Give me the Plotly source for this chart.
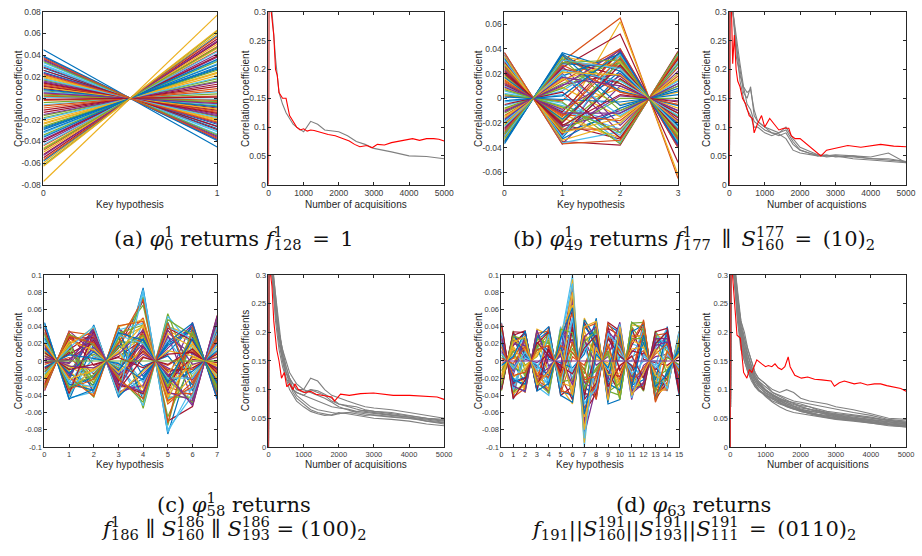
import plotly.graph_objects as go

W, H = 922, 556
COLORS = ['#0072BD', '#D95319', '#EDB120', '#7E2F8E', '#77AC30', '#4DBEEE', '#A2142F']
GRAY = '#808080'
RED = '#FF0000'

# ---------------- data: key-hypothesis panels ----------------
A_KEYS = [0, 1]
A_V0 = [0.045, 0.012, -0.077, 0.038, -0.062, 0.031, -0.055, 0.026, -0.048, 0.021, -0.041, 0.017, -0.035, 0.009,
        -0.029, 0.004, -0.024, 0.035, -0.018, 0.001, -0.013, 0.028, -0.009, -0.06, 0.015, -0.004, 0.033, -0.052,
        0.024, -0.044, 0.019, -0.038, 0.007, -0.032, 0.011, -0.027, 0.002, -0.021, 0.036, -0.016, -0.006, 0.029,
        -0.058, 0.013, -0.046, 0.023, -0.034, 0.006, -0.011, 0.039, -0.002, -0.05, 0.016, -0.026, 0.03, -0.039,
        0.008, -0.057, 0.02, -0.015, 0.003, -0.043, 0.026, -0.031, -0.007, 0.01, -0.053, 0.034, -0.019, 0.014,
        -0.036, 0.037, -0.023, 0.005, -0.047, 0.018, -0.001, -0.028, 0.022, -0.063]

B_KEYS = [0, 1, 2, 3]
B_X0 = [0.032, -0.03, 0.018, 0.037, -0.012, 0.006, -0.025, 0.028, -0.035, 0.012, -0.02, 0.024, -0.006, 0.035,
        -0.028, 0.002, -0.016, 0.03, -0.033, 0.01, 0.021, -0.037, 0.015, -0.009, 0.026, -0.022, 0.004, -0.031,
        0.033, -0.014, 0.008, -0.026, 0.019, -0.003, 0.029, -0.018, 0.013, -0.034, 0.023, -0.008, 0.036, -0.024,
        0.001, -0.029, 0.016, -0.011, 0.027, -0.019, 0.011, -0.036,
        0.025, -0.015, 0.009, -0.032, 0.031, -0.005, 0.017, -0.027, 0.034, -0.01, 0.003, -0.023, 0.02, -0.035,
        0.014, 0.028, -0.017, 0.007, -0.031, 0.022, -0.002, 0.037, -0.021, 0.012, -0.029]
B_X2 = [0.02, 0.065, 0.062, 0.01, 0.03, -0.02, 0.052, -0.012, 0.005, -0.035, -0.028, 0.015, 0.035, -0.038,
        0.025, 0.04, -0.005, 0.032, 0.012, -0.025, -0.033, 0.022, 0.038, -0.015, 0.002, 0.028, -0.03, 0.018,
        -0.008, 0.04, 0.008, -0.022, 0.03, -0.036, 0.016, 0.036, -0.018, 0.024, -0.01, 0.034, -0.027, 0.012,
        -0.003, 0.026, -0.032, 0.02, 0.0, -0.014, 0.038, 0.006,
        -0.025, 0.03, 0.018, -0.01, 0.036, -0.032, 0.022, 0.005, -0.02, 0.039, -0.037, 0.014, 0.027, -0.006,
        0.033, -0.016, 0.01, -0.028, 0.024, 0.003, 0.037, -0.034, 0.019, -0.012, 0.031]

C_KEYS = [0, 1, 2, 3, 4, 5, 6, 7]
C_X0 = [0.045, -0.02, 0.03, -0.035, 0.012, 0.038, -0.01, 0.022, -0.028, 0.005, 0.034, -0.016, 0.026, -0.032,
        0.018, -0.004, 0.041, -0.024, 0.009, 0.029, -0.013, 0.015, -0.03, 0.036, 0.002, -0.021, 0.024, -0.008,
        0.032, -0.026, 0.011, 0.02, -0.018, 0.04, -0.002, 0.027, -0.034, 0.007, 0.016, -0.012,
        0.043, -0.027, 0.014, 0.033, -0.019, 0.006, -0.031, 0.025, 0.038, -0.007, 0.019, -0.023, 0.003, 0.031,
        -0.015, 0.01, 0.044, -0.029, 0.021, -0.001, 0.0]
C_X2 = [0.02, 0.035, -0.03, 0.01, -0.042, 0.025, -0.015, 0.04, 0.005, -0.025, 0.03, -0.036, 0.015, -0.005,
        0.042, -0.02, 0.028, -0.038, 0.008, -0.012, 0.033, -0.028, 0.018, -0.008, 0.038, -0.032, 0.002, 0.024,
        -0.018, 0.012, -0.04, 0.036, -0.022, 0.006, 0.022, -0.034, 0.03, -0.01, 0.016, -0.026,
        -0.036, 0.027, 0.011, -0.021, 0.039, -0.008, 0.019, -0.03, 0.034, 0.003, -0.041, 0.013, 0.026, -0.016,
        0.04, -0.004, -0.033, 0.021, -0.011, 0.032, 0.0]
C_X4 = [0.085, 0.03, -0.04, 0.02, -0.055, 0.045, 0.07, -0.02, 0.01, 0.04, -0.03, 0.02, 0.083, 0.025, -0.01,
        0.05, -0.035, 0.015, 0.075, -0.025, 0.035, -0.045, 0.005, 0.028, -0.015, 0.042, -0.052, 0.018, -0.006,
        0.032, 0.048, -0.028, 0.022, -0.04, 0.012, -0.018, 0.038, -0.032, 0.008, 0.065,
        0.044, -0.038, 0.026, 0.072, -0.012, 0.036, -0.048, 0.02, 0.004, -0.022, 0.046, 0.014, -0.036, 0.03,
        0.08, -0.008, 0.024, -0.044, 0.042, 0.016, 0.0]
C_X6 = [0.01, -0.04, 0.03, 0.045, -0.02, 0.02, -0.053, 0.038, -0.01, 0.025, -0.045, 0.015, -0.03, 0.005, 0.04,
        -0.025, 0.022, -0.05, 0.035, -0.015, 0.028, -0.035, 0.012, -0.005, 0.042, -0.042, 0.018, 0.002, -0.028,
        0.032, -0.018, 0.008, -0.048, 0.026, -0.008, 0.036, -0.038, 0.016, -0.022, 0.0,
        -0.032, 0.024, -0.012, 0.04, 0.006, -0.046, 0.03, -0.02, 0.014, 0.044, -0.03, 0.02, -0.004, 0.034,
        -0.04, 0.01, 0.026, -0.026, 0.004, -0.052, 0.0]

D_KEYS = list(range(16))
D_X0 = [0.045, -0.03, 0.02, 0.035, -0.015, 0.01, -0.035, 0.028, -0.022, 0.004, 0.04, -0.008, 0.016, -0.028,
        0.032, -0.018, 0.024, -0.003, 0.038, -0.025, 0.007, 0.013, -0.033, 0.03, -0.011, 0.019, -0.02, 0.036,
        -0.006, 0.026, -0.031,
        0.042, -0.026, 0.012, -0.012, 0.034, -0.034, 0.022, 0.003, -0.017, 0.029, -0.029, 0.009, 0.044, -0.005,
        0.017, -0.022, 0.0]
D_X2 = [0.02, 0.035, -0.03, 0.01, -0.037, 0.028, -0.012, 0.005, 0.032, -0.024, 0.015, -0.033, 0.024, -0.005,
        0.012, 0.034, -0.019, 0.026, -0.028, 0.002, -0.015, 0.03, 0.008, -0.035, 0.022, -0.009, 0.018, -0.026,
        0.03, -0.02, 0.006,
        -0.032, 0.014, 0.029, -0.018, 0.004, 0.033, -0.027, 0.017, -0.006, -0.036, 0.025, 0.01, -0.022, 0.035,
        -0.013, 0.028, 0.0]
D_X4 = [-0.025, 0.04, 0.01, -0.038, 0.03, -0.012, 0.022, -0.03, 0.005, 0.035, -0.02, 0.015, -0.035, 0.027,
        -0.005, 0.018, -0.028, 0.038, -0.015, 0.008, 0.032, -0.022, 0.012, 0.002, -0.032, 0.025, -0.008, 0.02,
        -0.04, 0.034, -0.017,
        0.035, -0.034, -0.01, 0.024, -0.024, 0.014, 0.04, -0.018, 0.029, -0.006, -0.037, 0.031, 0.006, -0.026,
        0.018, -0.012, 0.0]
D_X6 = [0.1, -0.03, 0.045, 0.02, -0.05, 0.085, 0.035, -0.015, 0.06, -0.04, 0.025, 0.095, -0.025, 0.01, 0.05,
        -0.045, 0.03, 0.005, -0.035, 0.075, 0.015, -0.02, 0.04, -0.008, 0.055, -0.03, 0.07, 0.02, -0.012, 0.038,
        -0.042,
        -0.038, 0.065, 0.025, -0.022, 0.09, 0.045, -0.048, 0.01, 0.08, -0.028, 0.033, 0.05, -0.015, 0.062,
        0.022, -0.04, 0.0]
D_X8 = [0.03, -0.045, 0.05, -0.01, 0.02, -0.03, 0.04, 0.008, -0.038, 0.025, -0.02, 0.045, -0.005, 0.035,
        -0.025, 0.015, -0.042, 0.028, 0.002, -0.015, 0.038, -0.034, 0.012, 0.048, -0.028, 0.005, 0.022, -0.012,
        0.032, -0.04, 0.018,
        0.044, -0.02, -0.035, 0.036, 0.01, -0.026, 0.026, -0.044, 0.016, 0.04, -0.008, -0.032, 0.03, 0.008,
        -0.018, 0.046, 0.0]
D_X10 = [-0.02, 0.035, -0.045, 0.025, 0.04, -0.01, 0.015, -0.035, 0.03, 0.005, -0.028, 0.02, 0.045, -0.04,
         0.01, -0.018, 0.033, -0.005, -0.03, 0.042, 0.022, 0.0, -0.038, 0.028, 0.012, -0.024, 0.036, -0.044,
         0.008, -0.012, 0.026,
         0.03, -0.042, 0.018, -0.026, 0.043, 0.006, -0.034, 0.024, -0.014, 0.038, -0.045, 0.015, -0.006, 0.032,
         -0.022, 0.04, 0.0]
D_X12 = [0.015, -0.025, 0.035, 0.048, -0.01, 0.025, -0.035, 0.005, 0.04, -0.02, 0.03, -0.03, 0.01, 0.02,
         -0.015, 0.044, -0.028, 0.012, 0.028, -0.005, -0.033, 0.038, 0.002, -0.022, 0.033, 0.018, -0.012, 0.045,
         -0.032, 0.008, 0.022,
         -0.03, 0.04, -0.018, 0.026, 0.008, -0.034, 0.042, -0.008, 0.016, -0.026, 0.036, 0.0, -0.02, 0.03,
         0.046, -0.014, 0.0]
D_X14 = [-0.035, 0.02, 0.04, -0.015, 0.03, -0.028, 0.01, 0.035, -0.02, 0.015, -0.032, 0.025, 0.005, -0.01,
         0.038, -0.025, 0.018, -0.03, 0.028, 0.008, -0.018, 0.033, -0.005, 0.022, -0.034, 0.012, 0.03, -0.012,
         0.015, -0.022, 0.036,
         0.032, -0.03, 0.022, -0.022, 0.008, 0.038, -0.012, 0.02, -0.028, 0.026, 0.004, -0.033, 0.034, -0.016,
         0.012, -0.008, 0.0]

# ---------------- data: acquisition panels ----------------
ACQ_X = [0, 25, 100, 200, 300, 400, 500, 600, 700, 800, 1000, 1200, 1400, 1600, 1800, 2000, 2250, 2500, 2750,
         3000, 3500, 4000, 4500, 5000]

A_RED_X = [0, 20, 60, 100, 150, 200, 250, 300, 400, 500, 600, 700, 800, 900, 1000, 1100, 1200, 1300, 1500, 1700,
           1900, 2100, 2300, 2450, 2600, 2800, 2950, 3100, 3300, 3500, 3700, 3900, 4100, 4300, 4500, 4700, 4850, 5000]
A_RED_Y = [0, 0.6, 0.31, 0.29, 0.26, 0.2, 0.19, 0.16, 0.15, 0.15, 0.12, 0.11, 0.1, 0.095, 0.097, 0.093, 0.095,
           0.094, 0.09, 0.087, 0.085, 0.08, 0.076, 0.07, 0.066, 0.068, 0.064, 0.07, 0.069, 0.073, 0.075, 0.078,
           0.08, 0.077, 0.08, 0.08, 0.079, 0.076]
A_GRAY = [
    [0, 0.6, 0.3, 0.22, 0.16, 0.14, 0.125, 0.115, 0.105, 0.1, 0.092, 0.11, 0.105, 0.095, 0.094, 0.092, 0.085,
     0.075, 0.07, 0.063, 0.057, 0.05, 0.049, 0.045],
]

B_RED_X = [0, 20, 60, 93, 140, 190, 235, 300, 370, 460, 560, 650, 700, 790, 910, 1000, 1140, 1260, 1400, 1540,
           1680, 1750, 1860, 2000, 2200, 2420, 2590, 2750, 2980, 3350, 3720, 4000, 4280, 4650, 5000]
B_RED_Y = [0, 0.6, 0.3, 0.21, 0.26, 0.2, 0.18, 0.17, 0.15, 0.14, 0.12, 0.115, 0.09, 0.105, 0.12, 0.1, 0.115,
           0.105, 0.095, 0.098, 0.098, 0.085, 0.08, 0.08, 0.07, 0.06, 0.05, 0.06, 0.063, 0.068, 0.065, 0.068, 0.07,
           0.067, 0.066]
B_GRAY = [
    [0, 0.6, 0.3, 0.24, 0.2, 0.16, 0.15, 0.17, 0.12, 0.11, 0.1, 0.095, 0.09, 0.1, 0.08, 0.065, 0.058, 0.052, 0.05,
     0.05, 0.048, 0.045, 0.042, 0.04],
    [0, 0.6, 0.3, 0.25, 0.21, 0.17, 0.16, 0.165, 0.13, 0.11, 0.1, 0.09, 0.085, 0.09, 0.07, 0.06, 0.055, 0.05,
     0.052, 0.048, 0.05, 0.048, 0.055, 0.038],
    [0, 0.6, 0.3, 0.22, 0.19, 0.17, 0.14, 0.13, 0.11, 0.105, 0.095, 0.09, 0.088, 0.08, 0.06, 0.055, 0.052, 0.05,
     0.05, 0.052, 0.05, 0.045, 0.045, 0.04],
    [0, 0.6, 0.3, 0.24, 0.18, 0.15, 0.13, 0.12, 0.1, 0.1, 0.09, 0.085, 0.09, 0.095, 0.075, 0.06, 0.055, 0.052,
     0.048, 0.05, 0.045, 0.043, 0.04, 0.038],
]

C_RED_X = [0, 20, 60, 100, 150, 233, 300, 370, 450, 520, 600, 700, 750, 850, 1030, 1200, 1350, 1500, 1680, 1800,
           1880, 2050, 2300, 2620, 2990, 3300, 3550, 4020, 4490, 4800, 5000]
C_RED_Y = [0, 0.6, 0.3, 0.28, 0.22, 0.17, 0.15, 0.12, 0.13, 0.105, 0.11, 0.1, 0.11, 0.1, 0.095, 0.097, 0.092, 0.09,
           0.088, 0.087, 0.08, 0.092, 0.09, 0.093, 0.094, 0.092, 0.09, 0.09, 0.088, 0.087, 0.083]
C_GRAY = [
    [0, 0.6, 0.32, 0.25, 0.2, 0.17, 0.15, 0.13, 0.12, 0.11, 0.1, 0.12, 0.115, 0.1, 0.09, 0.085, 0.08, 0.075, 0.07,
     0.068, 0.065, 0.06, 0.055, 0.05],
    [0, 0.6, 0.3, 0.24, 0.18, 0.15, 0.13, 0.12, 0.11, 0.1, 0.095, 0.1, 0.095, 0.09, 0.08, 0.075, 0.072, 0.07, 0.065,
     0.062, 0.06, 0.055, 0.05, 0.048],
    [0, 0.6, 0.31, 0.22, 0.17, 0.14, 0.12, 0.11, 0.1, 0.095, 0.09, 0.085, 0.08, 0.075, 0.07, 0.068, 0.066, 0.062,
     0.06, 0.058, 0.055, 0.052, 0.048, 0.045],
    [0, 0.6, 0.3, 0.23, 0.19, 0.16, 0.14, 0.12, 0.1, 0.09, 0.08, 0.07, 0.065, 0.062, 0.06, 0.058, 0.06, 0.062,
     0.064, 0.062, 0.058, 0.055, 0.05, 0.046],
    [0, 0.6, 0.33, 0.26, 0.2, 0.16, 0.13, 0.11, 0.095, 0.085, 0.075, 0.065, 0.06, 0.057, 0.055, 0.058, 0.06,
     0.058, 0.055, 0.056, 0.053, 0.05, 0.045, 0.042],
    [0, 0.6, 0.3, 0.24, 0.19, 0.15, 0.12, 0.1, 0.09, 0.08, 0.07, 0.062, 0.058, 0.055, 0.056, 0.06, 0.058, 0.055,
     0.052, 0.05, 0.048, 0.045, 0.04, 0.037],
    [0, 0.6, 0.31, 0.25, 0.2, 0.17, 0.14, 0.12, 0.11, 0.1, 0.1, 0.095, 0.09, 0.085, 0.078, 0.07, 0.065, 0.06,
     0.058, 0.055, 0.052, 0.05, 0.047, 0.043],
    [0, 0.6, 0.32, 0.27, 0.21, 0.16, 0.13, 0.115, 0.1, 0.095, 0.09, 0.1, 0.098, 0.092, 0.085, 0.075, 0.07, 0.066,
     0.062, 0.06, 0.056, 0.052, 0.045, 0.04],
]

D_RED_X = [0, 20, 60, 100, 188, 282, 330, 376, 470, 540, 611, 680, 752, 893, 1000, 1081, 1180, 1269, 1360, 1457,
           1550, 1645, 1700, 1833, 2020, 2200, 2396, 2600, 2866, 2960, 3100, 3242, 3524, 3700, 3900, 4100, 4276,
           4450, 4652, 4850, 5000]
D_RED_Y = [0, 0.6, 0.3, 0.27, 0.195, 0.19, 0.16, 0.13, 0.12, 0.135, 0.13, 0.14, 0.152, 0.145, 0.14, 0.142, 0.14,
           0.145, 0.138, 0.135, 0.14, 0.157, 0.14, 0.125, 0.12, 0.122, 0.118, 0.117, 0.115, 0.106, 0.112, 0.115,
           0.11, 0.112, 0.108, 0.11, 0.11, 0.107, 0.104, 0.102, 0.097]
D_GRAY = [
    [0, 0.6, 0.32, 0.26, 0.21, 0.19, 0.17, 0.15, 0.13, 0.12, 0.11, 0.1, 0.095, 0.1, 0.095, 0.085, 0.08, 0.078,
     0.075, 0.07, 0.065, 0.058, 0.05, 0.048],
    [0, 0.6, 0.31, 0.25, 0.2, 0.18, 0.16, 0.14, 0.125, 0.115, 0.105, 0.095, 0.09, 0.085, 0.08, 0.078, 0.075, 0.072,
     0.068, 0.065, 0.06, 0.055, 0.048, 0.045],
    [0, 0.6, 0.3, 0.24, 0.2, 0.17, 0.15, 0.135, 0.12, 0.11, 0.1, 0.092, 0.085, 0.08, 0.076, 0.072, 0.07, 0.066,
     0.062, 0.06, 0.056, 0.052, 0.046, 0.043],
    [0, 0.6, 0.33, 0.27, 0.22, 0.19, 0.16, 0.14, 0.12, 0.11, 0.098, 0.09, 0.082, 0.078, 0.072, 0.068, 0.066, 0.063,
     0.06, 0.057, 0.054, 0.05, 0.045, 0.042],
    [0, 0.6, 0.3, 0.23, 0.19, 0.16, 0.14, 0.125, 0.11, 0.1, 0.09, 0.085, 0.08, 0.075, 0.07, 0.066, 0.062, 0.06,
     0.058, 0.055, 0.052, 0.048, 0.043, 0.04],
    [0, 0.6, 0.31, 0.25, 0.21, 0.18, 0.15, 0.13, 0.115, 0.105, 0.095, 0.088, 0.078, 0.07, 0.066, 0.064, 0.06, 0.057,
     0.055, 0.053, 0.05, 0.046, 0.042, 0.039],
    [0, 0.6, 0.32, 0.26, 0.2, 0.17, 0.145, 0.13, 0.12, 0.112, 0.1, 0.09, 0.085, 0.078, 0.074, 0.07, 0.065, 0.06,
     0.056, 0.052, 0.048, 0.045, 0.04, 0.038],
    [0, 0.6, 0.3, 0.24, 0.19, 0.165, 0.14, 0.12, 0.105, 0.098, 0.09, 0.08, 0.075, 0.07, 0.066, 0.062, 0.058, 0.055,
     0.052, 0.05, 0.047, 0.043, 0.039, 0.036],
    [0, 0.6, 0.31, 0.25, 0.18, 0.15, 0.13, 0.115, 0.105, 0.1, 0.092, 0.085, 0.076, 0.072, 0.068, 0.064, 0.06, 0.056,
     0.053, 0.05, 0.046, 0.044, 0.041, 0.037],
    [0, 0.6, 0.33, 0.27, 0.21, 0.18, 0.16, 0.14, 0.125, 0.115, 0.1, 0.09, 0.082, 0.075, 0.07, 0.065, 0.063, 0.06,
     0.057, 0.054, 0.05, 0.047, 0.044, 0.04],
    [0, 0.6, 0.3, 0.22, 0.17, 0.15, 0.13, 0.12, 0.11, 0.1, 0.088, 0.078, 0.07, 0.064, 0.06, 0.058, 0.055, 0.052,
     0.05, 0.048, 0.045, 0.042, 0.038, 0.035],
    [0, 0.6, 0.32, 0.25, 0.2, 0.17, 0.15, 0.13, 0.12, 0.108, 0.098, 0.09, 0.083, 0.08, 0.078, 0.075, 0.07, 0.064,
     0.06, 0.058, 0.055, 0.05, 0.046, 0.043],
    [0, 0.6, 0.31, 0.24, 0.19, 0.16, 0.14, 0.125, 0.115, 0.105, 0.094, 0.086, 0.08, 0.073, 0.068, 0.063, 0.058,
     0.054, 0.051, 0.049, 0.046, 0.041, 0.037, 0.035],
    [0, 0.6, 0.3, 0.26, 0.22, 0.2, 0.17, 0.15, 0.13, 0.12, 0.11, 0.095, 0.088, 0.082, 0.076, 0.07, 0.066, 0.062,
     0.058, 0.055, 0.051, 0.048, 0.044, 0.041],
    [0, 0.6, 0.32, 0.23, 0.18, 0.155, 0.135, 0.12, 0.108, 0.1, 0.09, 0.083, 0.077, 0.072, 0.067, 0.062, 0.059,
     0.056, 0.054, 0.051, 0.048, 0.044, 0.04, 0.036],
]

# ---------------- ticks / labels ----------------
YT_A = [-0.08, -0.06, -0.04, -0.02, 0, 0.02, 0.04, 0.06, 0.08]
YT_B = [-0.06, -0.04, -0.02, 0, 0.02, 0.04, 0.06]
YT_CD = [-0.1, -0.08, -0.06, -0.04, -0.02, 0, 0.02, 0.04, 0.06, 0.08, 0.1]
YT_R = [0, 0.05, 0.1, 0.15, 0.2, 0.25, 0.3]
XT_R = [0, 1000, 2000, 3000, 4000, 5000]

fig = go.Figure()


def px_x(v):
    return v / W


def px_y(v):
    return 1 - v / H


TOP = [px_y(183), px_y(7)]
BOT = [px_y(450), px_y(275)]
PANELS = [
    ((42, 218), TOP, [0, 1], [-0.08, 0.08], A_KEYS, YT_A, 8.5),
    ((270, 448), TOP, [0, 5000], [0, 0.3], XT_R, YT_R, 8.5),
    ((509, 685), TOP, [0, 3], [-0.07, 0.07], B_KEYS, YT_B, 8.5),
    ((737, 916), TOP, [0, 5000], [0, 0.3], XT_R, YT_R, 8.5),
    ((43, 218), BOT, [0, 7], [-0.1, 0.1], C_KEYS, YT_CD, 7.5),
    ((270, 448), BOT, [0, 5000], [0, 0.3], XT_R, YT_R, 7.5),
    ((506, 686), BOT, [0, 15], [-0.1, 0.1], D_KEYS, YT_CD, 7.5),
    ((738, 916), BOT, [0, 5000], [0, 0.3], XT_R, YT_R, 7.5),
]

AX = dict(showline=True, linecolor='#262626', linewidth=0.8, mirror='ticks', ticks='inside', ticklen=3,
          tickcolor='#262626', tickwidth=0.8, showgrid=False, zeroline=False)

layout_axes = {}
for i, (xd, yd, xr, yr, xt, yt, fs) in enumerate(PANELS, start=1):
    tf = dict(family='Liberation Sans, Arial', size=fs, color='#3a3a3a')
    layout_axes['xaxis' if i == 1 else f'xaxis{i}'] = dict(
        AX, domain=[px_x(xd[0]), px_x(xd[1])], range=xr, anchor=f'y{i}' if i > 1 else 'y',
        tickvals=xt, ticktext=[f'{v:g}' for v in xt], tickfont=tf)
    layout_axes['yaxis' if i == 1 else f'yaxis{i}'] = dict(
        AX, domain=yd, range=yr, anchor=f'x{i}' if i > 1 else 'x',
        tickvals=yt, ticktext=[f'{v:g}' for v in yt], tickfont=tf)


def ax(i):
    return ('x' if i == 1 else f'x{i}'), ('y' if i == 1 else f'y{i}')


def add_line(i, x, y, color, width):
    xa, ya = ax(i)
    fig.add_trace(go.Scatter(x=x, y=y, mode='lines', line=dict(color=color, width=width),
                             xaxis=xa, yaxis=ya, showlegend=False, hoverinfo='skip'))


LW = 1.2
for k, v in enumerate(A_V0):
    add_line(1, A_KEYS, [v, -v], COLORS[k % 7], LW)
for k, (a, b) in enumerate(zip(B_X0, B_X2)):
    add_line(3, B_KEYS, [a, -a, b, -b], COLORS[k % 7], LW)
for k, vals in enumerate(zip(C_X0, C_X2, C_X4, C_X6)):
    ys = []
    for v in vals:
        ys += [v, -v]
    add_line(5, C_KEYS, ys, COLORS[k % 7], LW)
for k, vals in enumerate(zip(D_X0, D_X2, D_X4, D_X6, D_X8, D_X10, D_X12, D_X14)):
    ys = []
    for v in vals:
        ys += [v, -v]
    add_line(7, D_KEYS, ys, COLORS[(k + 5) % 7], LW)

for i, grays, rx, ry in [(2, A_GRAY, A_RED_X, A_RED_Y), (4, B_GRAY, B_RED_X, B_RED_Y),
                         (6, C_GRAY, C_RED_X, C_RED_Y), (8, D_GRAY, D_RED_X, D_RED_Y)]:
    for g in grays:
        add_line(i, ACQ_X, g, GRAY, 1.1)
    add_line(i, rx, ry, RED, 1.1)

# ---------------- annotations ----------------
ann = []
TFONT = dict(family='Liberation Sans, Arial', size=10, color='#262626')
Y_TITLES = [
    (17, 95, 'Correlation coefficient'), (247, 95, 'Correlation coefficient'),
    (483, 95, 'Correlation coefficient'), (714, 95, 'Correlation coefficient'),
    (17, 362, 'Correlation coefficient'), (247, 362, 'Correlation coefficients'),
    (483, 362, 'Correlation coefficient'), (714, 362, 'Correlation coefficient'),
]
for x, y, t in Y_TITLES:
    ann.append(dict(x=px_x(x), y=px_y(y), xref='paper', yref='paper', text=t, textangle=-90,
                    showarrow=False, font=TFONT, xanchor='center', yanchor='middle'))
X_TITLES = [
    (130, 203, 'Key hypothesis'), (359, 203, 'Number of acquisitions'),
    (597, 203, 'Key hypothesis'), (826, 203, 'Number of acquistions'),
    (130, 468, 'Key hypothesis'), (359, 468, 'Number of acquisitions'),
    (596, 468, 'Key hypothesis'), (827, 468, 'Number of acquisitions'),
]
for x, y, t in X_TITLES:
    ann.append(dict(x=px_x(x), y=px_y(y), xref='paper', yref='paper', text=t, showarrow=False,
                    font=TFONT, xanchor='center', yanchor='middle'))

TR = '<span style="color:rgba(0,0,0,0)">{}</span>'


def cap_text(tokens, which):
    out = ''
    for tok in tokens:
        if isinstance(tok, str):
            out += tok if which == 'main' else TR.format(tok)
        else:
            sup, sub = tok
            n = max(len(sup), len(sub))
            if which == 'main':
                pad = '0' * (n - len(sub))
                out += '<sub>' + sub + (TR.format(pad) if pad else '') + '</sub>'
            else:
                pad = '0' * (n - len(sup))
                out += '<sup>' + sup + (TR.format(pad) if pad else '') + '</sup>'
    if which == 'main':
        out += '<sup>' + TR.format('0') + '</sup>'
    else:
        out += '<sub>' + TR.format('0') + '</sub>'
    return out


SP = '\u2002'
CAPTIONS = [
    (240, 237, ['(a) <i>φ</i>', ('1', '0'), ' returns <i>f</i>', ('1', '128'), SP + '=' + SP + '1']),
    (706, 237, ['(b) <i>φ</i>', ('1', '49'), ' returns <i>f</i>', ('1', '177'), SP + '∥' + SP + '<i>S</i>',
                ('177', '160'), SP + '=' + SP + '(10)', ('', '2')]),
    (240, 508, ['(c) <i>φ</i>', ('1', '58'), ' returns']),
    (240, 533, ['<i>f</i>', ('1', '186'), ' ∥ <i>S</i>', ('186', '160'), ' ∥ <i>S</i>',
                ('186', '193'), ' = (100)', ('', '2')]),
    (706, 508, ['(d) <i>φ</i>', ('', '63'), ' returns']),
    (706, 533, ['<i>f</i>', ('', '191'), '||<i>S</i>', ('191', '160'), '||<i>S</i>', ('191', '193'), '||<i>S</i>',
                ('191', '111'), SP + '=' + SP + '(0110)', ('', '2')]),
]
CFONT = dict(family='DejaVu Serif, serif', size=21, color='#111111')
for x, y, toks in CAPTIONS:
    for which in ('main', 'sup'):
        ann.append(dict(x=px_x(x), y=px_y(y), xref='paper', yref='paper', text=cap_text(toks, which),
                        showarrow=False, font=CFONT, xanchor='center', yanchor='middle'))

fig.update_layout(width=W, height=H, margin=dict(l=0, r=0, t=0, b=0), autosize=False,
                  paper_bgcolor='white', plot_bgcolor='white', showlegend=False, annotations=ann,
                  **layout_axes)
fig.write_html('out.html', config={'displayModeBar': False},
               post_script="document.body.style.margin='0px';document.body.style.overflow='hidden';")
